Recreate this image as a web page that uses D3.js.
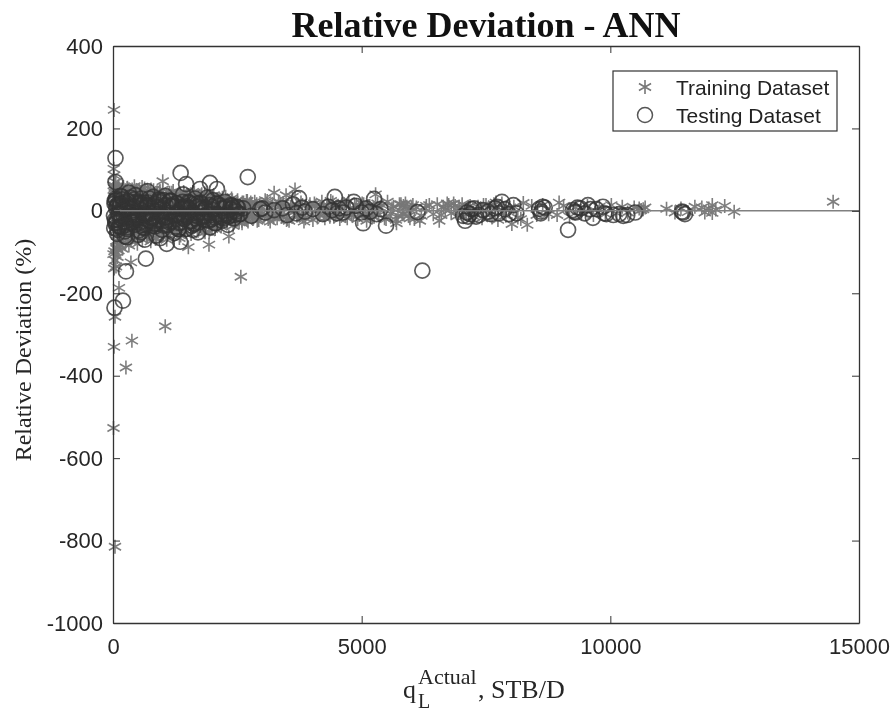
<!DOCTYPE html>
<html>
<head>
<meta charset="utf-8">
<script src="https://cdn.jsdelivr.net/npm/d3@7/dist/d3.min.js"></script>
<style>
html,body{margin:0;padding:0;background:#fff;overflow:hidden;}
svg{display:block;filter:blur(0.35px);}
</style>
</head>
<body>
<svg id="chart" width="894" height="712"></svg>
<script>
const titleText = "Relative Deviation - ANN";
const yLabel = "Relative Deviation (%)";
const legendLabels = ["Training Dataset", "Testing Dataset"];
const xTicks = [0, 5000, 10000, 15000];
const yTicks = [400, 200, 0, -200, -400, -600, -800, -1000];

const trainQ = [
20,40,10,20,380,260,1050,2570,2330,1930,1000,120,40,360,30,60,90,15,25,70,
35,50,80,110,140,170,200,230,20,45,75,105,135,165,195,225,255,285,315,345,
375,405,435,465,495,525,555,585,615,645,675,705,735,765,795,825,855,885,915,945,
975,1005,1035,1065,1095,1125,1155,1185,1215,1245,1275,1305,1335,1365,1395,1425,1455,1485,1515,1545,
1575,1605,1635,1665,1695,1725,1755,1785,1815,1845,1875,1905,1935,1965,1995,2025,2055,2085,2115,2145,
2175,2205,2235,2265,2295,2325,2355,2385,2415,2445,2475,2505,2535,2565,2595,2625,2655,2685,2715,2745,
150,290,430,570,710,850,990,1130,1270,1410,1550,1690,1830,1970,2110,2250,2390,2530,2670,2810,
220,310,480,640,790,930,1090,1240,1380,1520,1660,1790,1910,2040,2190,2310,2460,2600,2750,2880,
60,130,250,340,520,680,820,960,1110,1280,1440,1600,1760,1880,2020,2160,2290,2420,2560,2700,
2800,2850,2900,2950,3000,3060,3120,3180,3240,3300,3360,3420,3480,3540,3600,3660,3720,3780,3840,3900,
3960,4020,4080,4140,4200,4260,4320,4380,4440,4500,4560,4620,4680,4740,4800,4860,4920,4980,5040,5100,
5160,5220,5280,5340,5400,5460,5520,5580,5640,5700,5760,5820,5880,5940,6000,6060,6170,6300,6560,6640,
3100,3230,3350,3490,3610,3700,3160,3420,3810,4230,5190,5320,5690,5840,6750,6850,6930,7020,7100,7180,
7260,7340,7420,7500,7580,7660,7740,7820,7900,7980,8020,8060,8140,8250,8330,8420,8520,8640,8760,8970,
8930,9060,9180,9300,9420,9540,9660,9780,9900,10020,10130,10240,10350,10480,10580,10620,10660,10700,11130,11300,
11420,11560,11700,11840,11900,11980,12050,12050,12120,12300,12490,14480,
30,55,85,115,15,65,95,125,160,210,270,330,395,460,530,600,660,725,780,840,
900,960,1030,1100,1170,1230,1300,1360,1430,1490,1560,1620,1680,1750,1820,1890,1950,2010,2080,2140,
2210,2270,2340,2400,2470,2520,2590,2640,2720,2770,2830,2890,2930,2990,3040,3090,3150,3210,3270,3330,
3390,3450,3510,3570,3630,3690,3750,3810,3870,3930,3990,4050,4110,4170,4240,4300,4360,4420,4480,4530,
4590,4650,4710,4770,4830,4890,4950,5010,5070,5130,5250,5370,5490,5610,5730,5790,5850,5910,5970,6030,
25,40,70,100,145,185,240,300,370,440,510,590,650,740,810,880,950,1020,1120,1200,
1290,1370,1460,1540,1640,1720,1800,1870,1960,2060,2130,2240,2320,2430,2510,2610,2690,2780,2870,2970
];
const trainDev = [
245,-815,-527,-330,-315,-380,-280,-160,-62,-82,72,-187,-257,-125,-98,-135,-112,102,86,-92,
58,44,-72,48,-84,52,-66,47,-44,31,-52,26,-70,38,-58,45,-34,55,-48,28,
-62,42,-40,50,-55,24,-38,58,-46,34,-64,46,-30,52,-42,22,-68,40,-36,48,
-54,30,-44,26,-58,38,-32,44,-50,20,-40,36,-66,28,-34,42,-48,24,-88,32,
-38,46,-30,22,-42,34,-26,40,-46,18,-36,30,-52,26,-24,38,-44,20,-32,28,
-38,16,-26,34,-30,24,-20,30,-36,18,-22,26,-28,14,-30,20,-18,24,-26,16,
12,-8,20,-14,6,-22,16,-4,10,-18,24,-12,8,-6,18,-16,4,-10,14,-20,
-20,14,-10,24,-6,16,-24,8,-14,26,-4,18,-12,6,-22,10,-16,20,-8,12,
-24,30,-16,20,-28,12,-18,26,-8,16,-30,22,-12,28,-20,6,-26,14,-10,24,
-14,22,-24,12,-6,26,-20,8,44,-18,18,-12,38,-24,14,52,-10,20,-26,6,
16,-22,12,-8,22,-18,8,24,-14,10,-20,18,-12,24,-8,14,-20,10,16,-24,
12,-14,40,-10,14,-18,22,-6,10,-30,16,-8,18,-12,8,-20,-24,12,-24,10,
24,-16,10,-22,34,-12,-26,18,-14,8,-10,18,-22,12,14,18,-12,16,-8,12,
-14,10,-18,14,-10,16,-22,18,-12,8,-32,10,-16,19,-34,12,-10,14,-8,20,
-10,12,-14,8,-6,12,-10,10,-8,14,-6,10,-4,8,6,2,4,8,5,-4,
6,-3,10,8,-4,6,14,-5,3,12,-2,22,
-34,28,-46,18,36,-28,14,-52,40,-18,32,-40,10,-26,44,-14,22,-36,30,-8,
-24,34,-12,20,-42,16,-30,26,-6,38,-20,12,-34,24,-10,30,-16,6,-28,18,
-14,22,-8,26,-18,10,-24,14,-4,20,-12,16,-22,6,-10,18,-16,12,-6,22,
-14,8,-20,10,-4,16,-12,14,-18,6,-8,18,-16,4,-10,12,-14,20,-6,8,
-12,16,-18,4,-8,14,-10,18,-6,12,-14,8,-20,6,-12,16,-8,10,-18,14,
8,-12,20,-6,-18,14,-26,6,-10,22,-16,4,18,-24,12,-8,28,-20,10,-14,
16,-6,24,-12,8,-22,14,-4,20,-16,10,-26,6,18,-10,14,-20,4,12,-8
];

const trainOuterQ = [
10,25,45,65,85,110,135,160,190,220,250,285,320,360,400,445,490,540,590,640,
700,760,820,880,940,1010,1080,1150,1220,1290,1360,1430,1500,1570,1640,1710,1780,1850,1920,1990,
15,35,55,80,105,130,175,210,245,290,335,385,430,480,530,585,635,695,750,815,
870,935,1000,1070,1140,1210,1280,1350,1420,1495,1565,1635,1705,1775,1845,1915,2000,2100,2200,2300,
6100,6200,6280,6360,6440,6520,6600,6680,6720,6800,6880,6960,7050,7150,7250,7450,7620,7700,7860,8200
];
const trainOuterDev = [
-105,-140,-120,-88,-76,-96,-82,-70,-92,-64,-78,-60,-84,-72,-56,-66,-80,-58,-70,-52,
-62,-74,-50,-66,-46,-58,-70,-48,-54,-42,-60,-50,-44,-56,-38,-48,-42,-52,-36,-44,
62,54,70,48,60,52,46,58,50,56,44,52,60,46,50,42,54,48,44,50,
40,46,52,38,44,48,36,42,46,34,40,44,32,38,42,30,36,28,32,26,
8,-12,6,14,-8,16,-10,4,18,-6,12,8,-14,10,-4,14,-16,20,-6,-20
];

const testQ = [
50,50,1360,1470,1950,2090,1750,2710,3740,4460,5250,5490,5030,4840,260,660,200,30,1350,1080,
950,1610,2050,240,640,60,120,180,240,320,390,450,510,570,630,690,750,810,870,930,
990,1050,1110,1170,1230,1290,1350,1410,1470,1530,1590,1650,1710,1770,1830,1890,1950,2010,2070,2130,
2190,2250,2310,2370,2430,2490,90,150,280,410,540,670,800,920,1040,1190,1320,1450,1570,1700,
1840,1980,2120,2280,2410,40,80,170,300,430,560,700,840,980,1140,1260,1380,1500,1620,1780,
2540,2620,2780,2960,3060,3410,3500,3620,3680,3800,3860,4020,4220,4330,4410,4500,4540,4620,4690,4880,
5000,5090,5170,5300,5380,6120,7040,7080,7120,7210,7300,7540,7600,7680,7820,7880,7960,8050,8110,8570,
8610,8680,9250,9300,9400,9550,9650,9720,9850,9920,10060,10340,10500,11460,11500,9150,6220,3000,3240,
20,35,45,65,75,95,110,130,145,160,190,210,225,250,270,295,310,335,355,375,
400,420,440,465,480,500,525,550,575,600,620,650,680,710,730,760,785,815,835,860,
885,910,940,965,1000,1025,1060,1085,1120,1150,1180,1215,1240,1275,1310,1340,1370,1400,1430,1465,
1490,1520,1555,1585,1620,1660,1690,1730,1760,1800,1835,1870,1905,1940,1975,2015,2045,2080,2115,2155,
2185,2220,2260,2295,2330,2365,2400,2440,2475,2515,2560,25,55,85,125,175,215,265,305,345,
385,435,475,515,565,605,655,695,745,795,845,895,955,1015,1075,1135,1195,1255,1315,1385,
1445,1510,1575,1640,1715,1785,1860,1930,2000,2090,2175,2245,2340,2450,30,70,115,155,205,285,
360,425,495,585,665,775,875,1010,1165,1285,1420,1535,1675,7140,7180,7260,7360,7440,7720,7760,
8600,8640,9280,9340,9480,9600,9880,10180,10260,11440
];
const testDev = [
128,70,92,65,68,53,53,82,31,34,29,-36,-30,22,-147,-116,-218,-235,-75,-80,
-66,-46,-30,-62,-70,26,-38,34,-50,44,-28,38,-58,30,-42,48,-24,34,-60,22,
-46,36,-34,24,-54,18,-28,40,-44,20,-36,30,-52,16,-22,32,-40,26,-30,12,
-24,22,-34,14,-18,10,-46,18,-64,-12,20,-8,-36,28,-16,12,-44,8,-26,18,
-12,-20,16,-10,8,-22,12,-40,22,-18,-52,14,-30,-14,24,-38,10,-6,-32,6,
-8,6,-12,4,-4,6,-10,16,-6,8,-2,4,-8,10,2,-6,6,-4,8,12,
-4,6,-2,-8,4,-3,-12,-24,-4,4,-14,-2,-8,6,22,4,-8,14,-6,5,
-2,8,2,-4,6,14,-17,4,10,-8,-10,-10,-4,-4,-8,-46,-145,6,2,
-12,24,-30,8,-22,16,-6,-38,12,-18,28,-10,4,-26,18,-44,6,-14,32,-4,
-20,10,-34,22,-8,-16,14,-28,2,-40,20,-12,8,-24,30,-6,-18,12,-32,16,
-2,-22,26,-10,6,-36,14,-16,-4,24,-26,10,-14,18,-8,-30,4,22,-20,12,
-12,6,-24,16,-6,-18,10,-28,20,-4,-14,8,-22,14,-10,2,-16,18,-8,-12,
6,-18,10,-6,-14,4,12,-10,-2,8,-8,-42,30,-56,16,-20,8,-34,24,-14,
6,-26,18,-48,12,-8,-32,20,-16,4,-38,10,-22,26,-4,-28,14,-10,-44,8,
-18,22,-6,-30,12,-14,4,-24,10,-8,-16,6,-12,2,18,-28,-10,36,14,-40,
-6,28,-20,-34,12,-14,6,-24,10,-8,-18,4,-12,-14,-8,6,-10,2,10,-6,
-6,10,-2,8,-6,4,-6,-8,-12,-2
];

const W = 894, H = 712;
const plot = {left: 113, right: 859, top: 46, bottom: 623};
const axisColor = "#333";

const x = d3.scaleLinear().domain([0, 15000]).range([plot.left, plot.right]);
const y = d3.scaleLinear().domain([-1000, 400]).range([plot.bottom, plot.top]);

const svg = d3.select("#chart");

const clipId = "plot-clip";
svg.append("defs").append("clipPath").attr("id", clipId)
  .append("rect").attr("x", plot.left - 8).attr("y", plot.top)
  .attr("width", plot.right - plot.left + 8).attr("height", plot.bottom - plot.top);

const asterisk = {
  draw(ctx, size) {
    const r = Math.sqrt(size);
    const c = r * Math.cos(Math.PI / 6), s = r * Math.sin(Math.PI / 6);
    ctx.moveTo(0, -r); ctx.lineTo(0, r);
    ctx.moveTo(-c, -s); ctx.lineTo(c, s);
    ctx.moveTo(-c, s); ctx.lineTo(c, -s);
  }
};
const starPath = d3.symbol().type(asterisk).size(49);
const circlePath = d3.symbol().type(d3.symbolCircle).size(Math.PI * 7.5 * 7.5);
const trainStyle = {stroke: "#777", width: 1.6, opacity: 0.95};
const testStyle = {stroke: "#333", width: 1.7, opacity: 0.8};

const marks = svg.append("g").attr("clip-path", `url(#${clipId})`);

marks.append("g").selectAll("path")
  .data(d3.zip(trainQ.concat(trainOuterQ), trainDev.concat(trainOuterDev))).join("path")
  .attr("d", starPath)
  .attr("transform", d => `translate(${x(d[0])},${y(d[1])})`)
  .attr("fill", "none").attr("stroke", trainStyle.stroke)
  .attr("stroke-width", trainStyle.width).attr("opacity", trainStyle.opacity);

marks.append("g").selectAll("path").data(d3.zip(testQ, testDev)).join("path")
  .attr("d", circlePath)
  .attr("transform", d => `translate(${x(d[0])},${y(d[1])})`)
  .attr("fill", "none").attr("stroke", testStyle.stroke)
  .attr("stroke-width", testStyle.width).attr("opacity", testStyle.opacity);

svg.append("line")
  .attr("x1", x(0)).attr("x2", x(15000)).attr("y1", y(0)).attr("y2", y(0))
  .attr("stroke", "#808080").attr("stroke-width", 1.5);

const styleAxis = g => {
  g.selectAll(".domain").attr("stroke", axisColor).attr("stroke-width", 1.3);
  g.selectAll(".tick line").attr("stroke", axisColor).attr("stroke-width", 1);
  g.selectAll("text").attr("font-family", "'Liberation Sans', Arial, sans-serif")
    .attr("font-size", 22).attr("fill", "#262626");
};

svg.append("g").attr("transform", `translate(0,${plot.bottom})`)
  .call(d3.axisBottom(x).tickValues(xTicks).tickSizeInner(-7).tickSizeOuter(0).tickPadding(15).tickFormat(String))
  .call(styleAxis);
svg.append("g").attr("transform", `translate(0,${plot.top})`)
  .call(d3.axisTop(x).tickValues(xTicks).tickSizeInner(-7).tickSizeOuter(0).tickFormat(""))
  .call(styleAxis);
svg.append("g").attr("transform", `translate(${plot.left},0)`)
  .call(d3.axisLeft(y).tickValues(yTicks).tickSizeInner(-7).tickSizeOuter(0).tickPadding(10).tickFormat(String))
  .call(styleAxis);
svg.append("g").attr("transform", `translate(${plot.right},0)`)
  .call(d3.axisRight(y).tickValues(yTicks).tickSizeInner(-7).tickSizeOuter(0).tickFormat(""))
  .call(styleAxis);

const serif = "'Liberation Serif', 'Times New Roman', serif";

svg.append("text").attr("x", 486).attr("y", 37).attr("text-anchor", "middle")
  .attr("font-family", serif).attr("font-weight", "bold").attr("font-size", 36)
  .attr("fill", "#111").text(titleText);

svg.append("text").attr("transform", "translate(31,350) rotate(-90)").attr("text-anchor", "middle")
  .attr("font-family", serif).attr("font-size", 24).attr("fill", "#262626").text(yLabel);

const labelParts = [
  {t: "q", px: 403, py: 698, fs: 26},
  {t: "L", px: 418, py: 708, fs: 20},
  {t: "Actual", px: 418, py: 684, fs: 22},
  {t: ", STB/D", px: 478, py: 698, fs: 26}
];
svg.append("g").selectAll("text").data(labelParts).join("text")
  .attr("x", d => d.px).attr("y", d => d.py).attr("font-size", d => d.fs)
  .attr("font-family", serif).attr("fill", "#262626").text(d => d.t);

const legend = svg.append("g");
legend.append("rect").attr("x", 613).attr("y", 71).attr("width", 224).attr("height", 60)
  .attr("fill", "#fff").attr("stroke", "#333").attr("stroke-width", 1.2);
legend.append("path").attr("d", starPath).attr("transform", "translate(645,87)")
  .attr("fill", "none").attr("stroke", trainStyle.stroke).attr("stroke-width", trainStyle.width);
legend.append("path").attr("d", circlePath).attr("transform", "translate(645,115)")
  .attr("fill", "none").attr("stroke", "#555").attr("stroke-width", 1.5);
legend.selectAll("text").data(legendLabels).join("text")
  .attr("x", 676).attr("y", (d, i) => 95 + i * 28)
  .attr("font-family", "'Liberation Sans', Arial, sans-serif").attr("font-size", 21)
  .attr("fill", "#222").text(d => d);
</script>
</body>
</html>
